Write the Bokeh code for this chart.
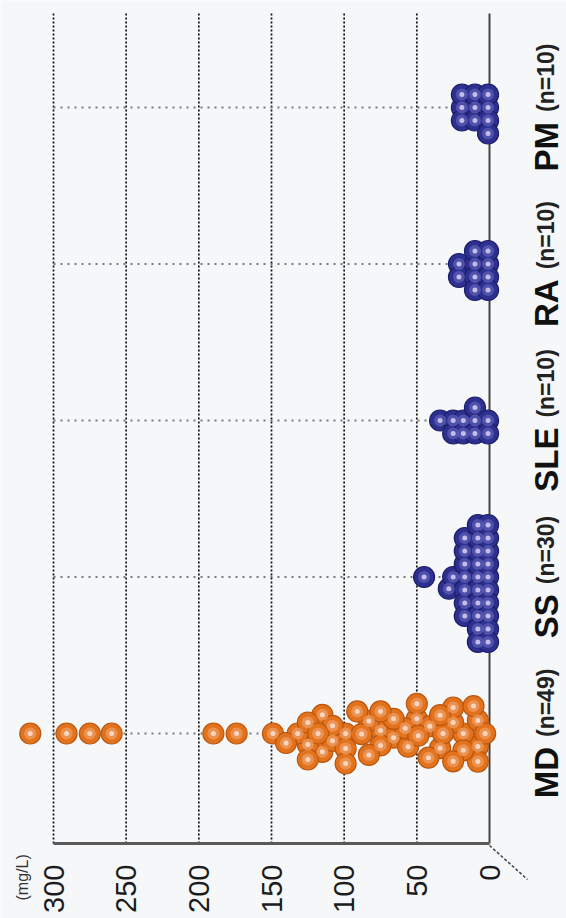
import math
from bokeh.plotting import figure
from bokeh.models import Range1d, Label, ColumnDataSource
from bokeh.core.properties import value
from bokeh.embed import file_html
from bokeh.resources import INLINE

# ---------------- data ----------------
categories = ["MD", "SS", "SLE", "RA", "PM"]
counts = [49, 30, 10, 10, 10]
unit_label = "(mg/L)"
value_ticks = [0, 50, 100, 150, 200, 250, 300]
tick_labels = ["0", "50", "100", "150", "200", "250", "300"]

md_values = [316, 291, 275, 260, 190, 174, 149,
             50, 8,
             115, 99, 75, 34, 18,
             125, 108, 66, 50, 25, 8,
             132, 115, 99, 83, 56, 41, 25, 11,
             125, 91, 75, 58, 32, 8,
             125, 108, 83, 66, 49, 34, 18,
             99, 75, 25,
             140, 118, 88, 42, 3]
ss_values = [45, 28, 25,
             17, 17, 17, 17, 17, 17, 17,
             8, 8, 8, 8, 8, 8, 8, 8, 8, 8,
             1, 1, 1, 1, 1, 1, 1, 1, 1, 1]
sle_values = [34, 25, 25, 18, 18, 10, 10, 10, 1, 1]
ra_values = [21, 21, 10, 10, 10, 10, 1, 1, 1, 1]
pm_values = [19, 19, 19, 10, 10, 10, 1, 1, 1, 1]
group_values = [md_values, ss_values, sle_values, ra_values, pm_values]

# ---------------- layout (pixels of the 566x918 page) ----------------
W, H = 566, 918
PX_ZERO, PX_300 = 489.0, 53.0          # x pixel of value 0 and of value 300
PY_FIRST, PY_STEP = 733.0, 156.5       # y pixel of first category, spacing
PLOT_TOP_PX, PLOT_BOTTOM_PX = 13.0, 843.0

SX = (PX_ZERO - PX_300) / 300.0        # px per mg/L
X_LEFT = PX_ZERO / SX                  # value at left page edge (reversed axis)
X_RIGHT = -(W - PX_ZERO) / SX          # value at right page edge
Y_BOTTOM = -(H - PY_FIRST) / PY_STEP
Y_TOP = Y_BOTTOM + H / PY_STEP
SY = PY_STEP
PLOT_TOP = Y_TOP - PLOT_TOP_PX / SY
PLOT_BOTTOM = Y_TOP - PLOT_BOTTOM_PX / SY

DOT = 21
# beeswarm collision ellipse per group: (along value axis, across) in px
SPACING = [(15.0, 15.0), (10.0, 13.0), (10.0, 13.0), (10.0, 13.0), (10.0, 13.0)]
FONT = "Liberation Sans"
BG = "#F6F7F9"

orange = dict(body="#E3721D", rim="#B9560F", mid="#EF9D62", core="#F9DECF")
blue = dict(body="#2E3090", rim="#1C1D6A", mid="#5C5DB6", core="#D0C9EE")
group_styles = [orange, blue, blue, blue, blue]


def swarm(vals, ax, ay):
    """Beeswarm: place dots (sorted by value) at the free offset nearest the category line.
    Collision region is an ellipse with half-axes ax (value direction) and ay (spread direction)."""
    k = ax / ay
    order = sorted(range(len(vals)), key=lambda i: vals[i])
    placed = []
    offs = [0.0] * len(vals)
    for i in order:
        x = vals[i] * SX
        cands = [0.0]
        for (px, py) in placed:
            dx = abs(x - px)
            if dx < ax:
                dy = math.sqrt(ax * ax - dx * dx)
                cands += [py + dy, py - dy]
        cands.sort(key=lambda c: (round(abs(c), 6), c))
        chosen = cands[-1]
        for c in cands:
            if all((x - px) ** 2 + (c - py) ** 2 >= ax * ax - 1e-6 for px, py in placed):
                chosen = c
                break
        placed.append((x, chosen))
        offs[i] = chosen / k
    return [o / SY for o in offs]


p = figure(width=W, height=H, output_backend="svg", toolbar_location=None,
           x_range=Range1d(X_LEFT, X_RIGHT), y_range=Range1d(Y_BOTTOM, Y_TOP),
           min_border=0, x_axis_location=None, y_axis_location=None)
p.outline_line_color = None
p.background_fill_color = BG
p.border_fill_color = BG
p.xgrid.visible = False
p.ygrid.visible = False

n_t = len(value_ticks)
vmax = max(value_ticks)
inner_ticks = [t for t in value_ticks if t > 0]

# dotted value grid lines
p.segment(x0=inner_ticks, x1=inner_ticks, y0=[PLOT_BOTTOM] * len(inner_ticks),
          y1=[PLOT_TOP] * len(inner_ticks), line_color="#111111", line_width=1.7, line_dash="2 2")

# category guide lines (light dotted) from 300 to 0
cat_pos = list(range(len(categories)))
p.segment(x0=[vmax] * len(cat_pos), x1=[0] * len(cat_pos), y0=cat_pos, y1=cat_pos,
          line_color="#7a7a7a", line_width=1.8, line_dash="2 5")

# baseline at value 0 (vertical) and the value axis line (horizontal)
p.segment(x0=[0], x1=[0], y0=[PLOT_BOTTOM], y1=[PLOT_TOP], line_color="#444444", line_width=2)
p.segment(x0=[0], x1=[vmax], y0=[PLOT_BOTTOM], y1=[PLOT_BOTTOM], line_color="#5a5a5a", line_width=3)

# slanted foot below the origin
FOOT_DX, FOOT_DY = 38.0, 36.0
p.segment(x0=[0], x1=[-FOOT_DX / SX], y0=[PLOT_BOTTOM - 2 / SY], y1=[PLOT_BOTTOM - FOOT_DY / SY],
          line_color="#444444", line_width=1.5, line_dash="3 2")

# dots
for k, (vals, st, (ax_, ay_)) in enumerate(zip(group_values, group_styles, SPACING)):
    offs = swarm(vals, ax_, ay_)
    src = ColumnDataSource(dict(v=vals, y=[k + o for o in offs]))
    p.scatter("v", "y", source=src, size=DOT, fill_color=st["body"], line_color=st["rim"], line_width=1.2)
    p.scatter("v", "y", source=src, size=12, fill_color=st["mid"], line_color=None, fill_alpha=0.75)
    p.scatter("v", "y", source=src, size=5, fill_color=st["core"], line_color=None, fill_alpha=0.9)

# value tick labels (rotated, reading upward, ending just under the axis line)
STANDOFF = 21
p.text(x=value_ticks, y=[PLOT_BOTTOM - STANDOFF / SY] * n_t, text=tick_labels, angle=math.pi / 2,
       text_align="right", text_baseline="middle", text_font=value(FONT),
       text_font_size="29px", text_color="#1c1c1c")

# unit label
p.add_layout(Label(x=22, y=18, x_units="screen", y_units="screen", text=unit_label, angle=math.pi / 2,
                   text_font=FONT, text_font_size="16px", text_color="#333333",
                   text_align="left", text_baseline="alphabetic"))

# category labels: bold name + smaller count, rotated, centred on the category
NAME_PX, COUNT_PX = 33, 23
WID = {"M": .833, "D": .722, "S": .667, "L": .611, "E": .667, "R": .722, "A": .722, "P": .667,
       "(": .333, ")": .333, "n": .611, "=": .584, " ": .278}


def twidth(s, px):
    return sum(WID.get(c, .556) for c in s) * px


GAP = 10
for k, (name, n) in enumerate(zip(categories, counts)):
    cnt = f"(n={n})"
    wn, wc = twidth(name, NAME_PX), twidth(cnt, COUNT_PX)
    shift = (wn - wc) / 2.0
    p.add_layout(Label(x=546, y=k, x_units="screen", y_units="data", text=name, angle=math.pi / 2,
                       y_offset=shift - GAP / 2, text_font=FONT, text_font_style="bold",
                       text_font_size=f"{NAME_PX}px", text_color="#111111",
                       text_align="right", text_baseline="alphabetic"))
    p.add_layout(Label(x=545, y=k, x_units="screen", y_units="data", text=cnt, angle=math.pi / 2,
                       y_offset=shift + GAP / 2, text_font=FONT, text_font_style="bold",
                       text_font_size=f"{COUNT_PX}px", text_color="#222222",
                       text_align="left", text_baseline="alphabetic"))

open("out.html", "w").write(file_html(p, INLINE))
